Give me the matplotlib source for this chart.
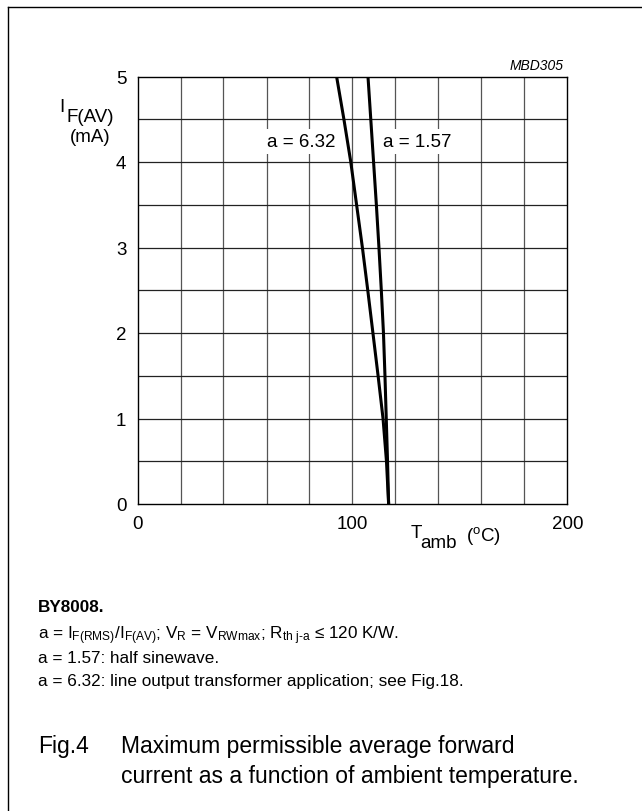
import numpy as np
import matplotlib
matplotlib.use("Agg")
import matplotlib.pyplot as plt
from matplotlib.lines import Line2D

plt.rcParams['font.family'] = ['Liberation Sans', 'DejaVu Sans']
plt.rcParams['mathtext.fontset'] = 'custom'
plt.rcParams['mathtext.rm'] = 'Liberation Sans'
plt.rcParams['mathtext.it'] = 'Liberation Sans:italic'
plt.rcParams['mathtext.bf'] = 'Liberation Sans:bold'

# current (mA) vs ambient temperature (deg C)
i_fav = [5, 4.5, 4, 3.5, 3, 2.5, 2, 1.5, 1, 0.5, 0]
t_a632 = [92.6, 96.0, 99.2, 101.9, 104.6, 107.1, 109.5, 111.9, 114.2, 115.8, 116.8]
t_a157 = [107.2, 108.5, 109.8, 111.1, 112.3, 113.4, 114.4, 115.1, 115.7, 116.3, 116.8]

x_ticks = [0, 100, 200]
y_ticks = [0, 1, 2, 3, 4, 5]

W, H = 642, 812
fig = plt.figure(figsize=(W / 100, H / 100), dpi=100)

def px(x, y):
    return x / W, 1 - y / H

x0, x1, y0, y1 = 137.5, 567.5, 77.5, 505
ax = fig.add_axes([x0 / W, 1 - y1 / H, (x1 - x0) / W, (y1 - y0) / H])
ax.set_xlim(0, 200)
ax.set_ylim(0, 5)

for xv in np.arange(20, 200, 20):
    ax.axvline(xv, color='#555555', lw=0.9, zorder=1)
for yv in np.arange(0.5, 5, 0.5):
    ax.axhline(yv, color='#222222', lw=0.9, zorder=1)

ax.plot(t_a632, i_fav, color='black', lw=2.2, zorder=3)
ax.plot(t_a157, i_fav, color='black', lw=2.2, zorder=3)

ax.set_xticks(x_ticks)
ax.set_yticks(y_ticks)
ax.tick_params(length=0, labelsize=13.5, pad=8)
ax.tick_params(axis='y', pad=8)
for s in ax.spines.values():
    s.set_linewidth(1.0)
    s.set_color('black')

box = dict(facecolor='white', edgecolor='none', pad=3)
ax.text(76, 4.24, 'a = 6.32', fontsize=13.5, ha='center', va='center', bbox=box, zorder=2)
ax.text(130, 4.24, 'a = 1.57', fontsize=13.5, ha='center', va='center', bbox=box, zorder=2)

fig.text(*px(564, 66), 'MBD305', fontsize=10, style='italic', ha='right', va='center')

# y label
fig.text(*px(59, 107), 'I', fontsize=13.5, ha='left', va='center')
fig.text(*px(66, 118), 'F(AV)', fontsize=13.5, ha='left', va='center')
fig.text(*px(70, 138), '(mA)', fontsize=13.5, ha='left', va='center')

# x label
fig.text(*px(411, 533), 'T', fontsize=13.5, ha='left', va='center')
fig.text(*px(420, 543), 'amb', fontsize=13.5, ha='left', va='center')
fig.text(*px(466, 536), r'($^{\mathrm{o}}$C)', fontsize=13.5, ha='left', va='center')

# notes
fig.text(*px(38, 608), 'BY8008.', fontsize=12.3, weight='bold', ha='left', va='center')
fig.text(*px(38, 636),
         r'a = I$_{\mathrm{F(RMS)}}$/I$_{\mathrm{F(AV)}}$; V$_{\mathrm{R}}$ = V$_{\mathrm{RWmax}}$; '
         r'R$_{\mathrm{th\ j\text{-}a}}$ ≤ 120 K/W.',
         fontsize=12.3, ha='left', va='center')
fig.text(*px(38, 659), 'a = 1.57: half sinewave.', fontsize=12.3, ha='left', va='center')
fig.text(*px(38, 682), 'a = 6.32: line output transformer application; see Fig.18.',
         fontsize=12.3, ha='left', va='center')

fig.text(*px(38, 747), 'Fig.4', fontsize=16.5, ha='left', va='center')
fig.text(*px(121, 747), 'Maximum permissible average forward', fontsize=16.5, ha='left', va='center')
fig.text(*px(121, 777), 'current as a function of ambient temperature.', fontsize=16.5,
         ha='left', va='center')

# frame around the figure (left and top edges)
fig.add_artist(Line2D([8 / W, 8 / W], [0, 1 - 8 / H], color='black', lw=1.0))
fig.add_artist(Line2D([8 / W, 1], [1 - 8 / H, 1 - 8 / H], color='black', lw=1.0))

fig.savefig('out.png', dpi=100)
